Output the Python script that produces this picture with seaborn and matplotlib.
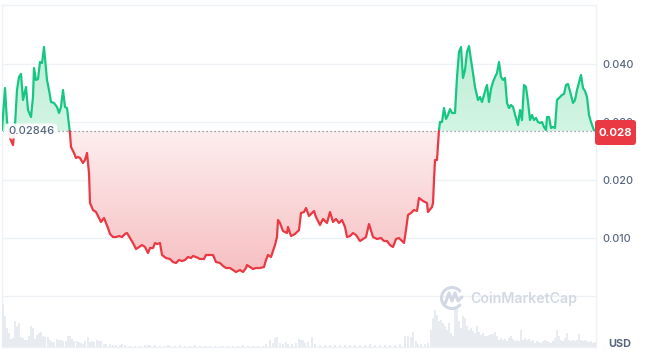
import numpy as np
import pandas as pd
import matplotlib
matplotlib.use('Agg')
import matplotlib.pyplot as plt
import seaborn as sns
from matplotlib.path import Path
from matplotlib.colors import LinearSegmentedColormap
from matplotlib.patches import FancyBboxPatch, Arc

# price samples (t = sample position along the day, price in 1/1000 USD)
t = [2, 5, 7, 10, 13, 15, 17, 19, 21, 23,
     26, 28, 31, 33, 34, 36, 38, 40, 42, 44,
     47, 49, 51, 54, 57, 59, 61, 63, 65, 67,
     70, 71, 74, 76, 78, 80, 83, 85, 87, 89,
     90, 93, 96, 99, 101, 104, 106, 108, 110, 113,
     116, 119, 122, 125, 127, 130, 133, 136, 139, 142,
     145, 148, 150, 153, 155, 157, 160, 162, 166, 170,
     173, 176, 179, 182, 185, 188, 191, 193, 196, 200,
     204, 206, 210, 213, 216, 220, 223, 226, 230, 233,
     236, 240, 243, 246, 247, 250, 253, 256, 260, 264,
     266, 268, 271, 275, 277, 278, 280, 283, 287, 288,
     291, 295, 298, 299, 301, 304, 306, 309, 314, 316,
     320, 323, 327, 330, 333, 336, 339, 342, 345, 347,
     350, 353, 356, 360, 363, 366, 369, 373, 377, 381,
     384, 387, 390, 393, 396, 399, 401, 404, 406, 408,
     411, 414, 417, 419, 423, 427, 428, 432, 433, 434,
     435, 437, 439, 440, 442, 444, 446, 448, 450, 452,
     455, 457, 459, 461, 463, 465, 467, 469, 471, 473,
     475, 478, 480, 482, 484, 486, 487, 489, 491, 493,
     495, 497, 499, 501, 503, 505, 507, 509, 511, 513,
     516, 518, 520, 522, 524, 526, 528, 530, 532, 534,
     536, 538, 540, 542, 544, 546, 547, 549, 551, 553,
     555, 557, 559, 562, 564, 566, 568, 571, 573, 575,
     577, 581, 583, 585, 587, 589, 591, 594]
price_milli = [28.62, 35.86, 30.00, 27.24, 26.03, 29.48, 35.52, 37.76, 38.28, 33.79,
               36.03, 32.07, 30.86, 34.31, 39.31, 37.24, 37.41, 40.34, 40.17, 42.93,
               37.24, 35.52, 33.45, 33.28, 32.59, 31.55, 32.59, 35.52, 32.59, 32.41,
               28.00, 25.69, 24.66, 23.79, 23.97, 23.79, 22.93, 23.45, 24.66, 21.21,
               16.03, 14.83, 14.48, 13.45, 12.76, 13.45, 12.59, 11.72, 10.69, 10.17,
               10.17, 10.34, 10.17, 10.69, 10.86, 10.00, 9.14, 8.10, 8.45, 8.79,
               8.45, 7.41, 8.28, 8.28, 9.14, 8.97, 9.14, 7.07, 6.55, 6.38,
               5.86, 5.69, 6.21, 6.03, 6.21, 6.72, 6.55, 6.90, 6.72, 6.38,
               6.38, 7.07, 7.07, 7.07, 5.86, 5.69, 5.17, 4.83, 4.83, 4.48,
               4.14, 4.48, 4.14, 4.83, 5.34, 5.00, 4.66, 4.83, 4.83, 5.00,
               6.21, 7.07, 6.72, 8.79, 10.17, 13.10, 12.59, 11.21, 10.86, 11.90,
               10.34, 10.69, 11.21, 11.38, 14.31, 14.48, 15.17, 13.79, 14.66, 13.62,
               12.24, 13.28, 12.59, 14.48, 12.76, 13.28, 12.59, 13.10, 11.90, 10.17,
               10.34, 10.86, 10.52, 9.48, 9.83, 10.17, 12.41, 10.17, 9.83, 10.00,
               9.48, 9.48, 8.79, 8.45, 9.83, 10.00, 9.66, 9.14, 11.38, 13.97,
               14.31, 14.83, 14.66, 16.90, 16.38, 16.03, 14.48, 15.34, 16.03, 20.00,
               23.45, 23.45, 28.62, 30.00, 30.00, 32.41, 30.52, 31.21, 32.24, 31.55,
               31.55, 37.76, 42.07, 42.93, 37.59, 38.97, 42.07, 43.10, 40.69, 38.45,
               36.03, 33.79, 34.31, 33.45, 34.66, 35.86, 36.38, 33.45, 35.69, 36.90,
               37.76, 38.45, 40.34, 37.76, 37.24, 37.59, 33.28, 32.41, 32.93, 32.59,
               30.69, 29.48, 32.07, 30.34, 36.38, 36.03, 33.45, 30.34, 31.21, 30.34,
               30.69, 30.00, 29.83, 30.00, 29.14, 28.62, 30.86, 30.86, 28.97, 29.14,
               28.97, 33.79, 34.14, 34.66, 34.83, 36.38, 36.55, 34.66, 33.28, 33.79,
               35.52, 38.10, 35.86, 35.34, 34.31, 31.21, 30.00, 28.55]

# volume samples (relative units)
vol_t = [3, 5, 7, 9, 11, 13, 15, 17, 19, 21, 23, 25, 27, 29, 31, 33, 35, 37, 39, 41,
         43, 45, 48, 50, 52, 54, 57, 59, 61, 63, 66, 68, 70, 72, 74, 77, 79, 81, 83, 85,
         88, 90, 92, 94, 97, 99, 101, 104, 106, 110, 113, 116, 120, 122, 125, 130, 135, 140, 145, 148,
         150, 155, 160, 165, 168, 170, 175, 180, 185, 190, 195, 200, 205, 210, 215, 220, 223, 228, 233, 238,
         243, 248, 253, 258, 263, 266, 270, 273, 275, 277, 280, 283, 286, 288, 292, 296, 299, 301, 303, 305,
         308, 312, 315, 320, 325, 330, 335, 340, 345, 350, 355, 360, 365, 370, 375, 380, 385, 390, 395, 400,
         405, 408, 411, 413, 416, 418, 421, 425, 428, 431, 433, 435, 437, 439, 441, 443, 445, 447, 449, 451,
         453, 455, 457, 459, 461, 463, 465, 467, 469, 471, 473, 475, 477, 479, 481, 483, 485, 487, 489, 491,
         493, 495, 497, 499, 501, 503, 505, 507, 509, 511, 513, 515, 517, 519, 521, 523, 525, 527, 529, 531,
         533, 535, 537, 539, 541, 543, 545, 547, 549, 551, 553, 555, 557, 559, 561, 563, 565, 567, 569, 571,
         573, 575, 577, 579, 581, 583, 585, 587, 589, 591, 593, 595]
vol = [43, 31, 19, 14, 8, 9, 26, 21, 24, 10, 9, 7, 7, 11, 21, 19, 8, 12, 14, 15,
       11, 10, 10, 7, 5, 5, 8, 7, 7, 6, 6, 11, 11, 8, 6, 6, 5, 4, 3, 6,
       10, 5, 6, 5, 7, 6, 6, 3, 3, 3, 2, 2, 2, 3, 2, 1, 1, 1, 2, 2,
       2, 2, 1, 1, 2, 1, 1, 2, 1, 1, 2, 1, 1, 1, 1, 1, 1, 1, 1, 1,
       2, 1, 1, 1, 1, 3, 7, 4, 9, 10, 4, 3, 5, 3, 3, 4, 8, 7, 7, 4,
       5, 10, 3, 2, 2, 2, 2, 2, 2, 2, 2, 2, 2, 3, 2, 2, 2, 2, 2, 3,
       11, 11, 10, 15, 6, 3, 3, 3, 4, 17, 29, 37, 32, 26, 27, 24, 21, 17, 24, 14,
       11, 39, 41, 26, 19, 31, 29, 21, 17, 19, 16, 14, 21, 15, 12, 14, 11, 11, 12, 13,
       13, 15, 11, 7, 9, 7, 8, 6, 9, 11, 8, 6, 7, 6, 17, 7, 9, 7, 8, 6,
       7, 4, 6, 5, 4, 6, 7, 6, 5, 4, 6, 9, 17, 11, 7, 6, 9, 14, 7, 6,
       7, 6, 7, 13, 7, 6, 7, 6, 5, 6, 4, 5]

open_price = 0.02846
last_label = '0.028'
y_ticks = [0.0, 0.01, 0.02, 0.03, 0.04]
y_labels = ['', '0.010', '0.020', '0.030', '0.040']

GREEN = '#16c784'
RED = '#ea3943'
GREY = '#58667e'
GRID = '#eff2f5'

sns.set_theme(style='white')
plt.rcParams['font.family'] = ['Inter', 'DejaVu Sans']

price = np.array(price_milli) / 1000
base = open_price

# insert the points where the line crosses the opening price
tt, pp = [], []
for i in range(len(t)):
    if i > 0 and (price[i - 1] - base) * (price[i] - base) < 0:
        f = (base - price[i - 1]) / (price[i] - price[i - 1])
        tt.append(t[i - 1] + f * (t[i] - t[i - 1]))
        pp.append(base)
    tt.append(t[i])
    pp.append(price[i])
tt = np.array(tt)
pp = np.array(pp)

rows = []
seg = 0
side = 'up' if pp[0] > base else 'down'
for x, y in zip(tt, pp):
    if y == base:
        rows.append((x, y, seg, side))
        seg += 1
        side = 'down' if side == 'up' else 'up'
    rows.append((x, y, seg, side))
df = pd.DataFrame(rows, columns=['t', 'p', 'seg', 'side'])

W, H = 649, 359
fig = plt.figure(figsize=(W / 100, H / 100), dpi=100)
ax = fig.add_axes([2 / W, 12 / H, 594 / W, 342 / H])
ax.set_facecolor('white')
xlim = (2, 596)
ylim = (-0.00879, 0.05017)

for yv in y_ticks:
    ax.axhline(yv, color=GRID, lw=1, zorder=0)

# gradient fills clipped to the area between line and opening price
green_cmap = LinearSegmentedColormap.from_list('g', ['#d3f5e4', '#bcedd4'])
red_cmap = LinearSegmentedColormap.from_list('r', ['#f7bfc2', '#fdeeee'])
grad = np.linspace(0, 1, 256).reshape(-1, 1)

poly_up = ax.fill_between(tt, pp, base, where=pp >= base, color='none', lw=0)
poly_dn = ax.fill_between(tt, pp, base, where=pp <= base, color='none', lw=0)

im_up = ax.imshow(grad, extent=[xlim[0], xlim[1], base, 0.0435], origin='lower',
                  aspect='auto', cmap=green_cmap, zorder=1)
im_up.set_clip_path(Path.make_compound_path(*poly_up.get_paths()), ax.transData)
im_dn = ax.imshow(grad, extent=[xlim[0], xlim[1], 0.004, base], origin='lower',
                  aspect='auto', cmap=red_cmap, zorder=1)
im_dn.set_clip_path(Path.make_compound_path(*poly_dn.get_paths()), ax.transData)

ax.plot(xlim, [base, base], ls=(0, (1, 2.2)), color='#7d8699', lw=0.9, zorder=2)

sns.lineplot(data=df, x='t', y='p', hue='side', units='seg', estimator=None, sort=False,
             palette={'up': GREEN, 'down': RED}, linewidth=1.6, legend=False, ax=ax, zorder=3)

ax.set_xlim(*xlim)
ax.set_ylim(*ylim)
ax.set_xlabel('')
ax.set_ylabel('')
ax.set_xticks([])
ax.set_yticks(y_ticks)
ax.set_yticklabels(y_labels, fontweight='medium')
ax.yaxis.tick_right()
ax.tick_params(axis='y', length=0, pad=4.5, labelsize=7.8, labelcolor=GREY)
for s in ax.spines.values():
    s.set_visible(True)
    s.set_color(GRID)
    s.set_linewidth(1)

# volume strip
axv = fig.add_axes([2 / W, 12 / H, 594 / W, 51 / H])
axv.patch.set_alpha(0)
axv.bar(vol_t, vol, width=1.3, color='#e8ecf1', linewidth=0)
axv.set_xlim(*xlim)
axv.set_ylim(0, 51)
axv.axis('off')

# overlay in pixel coordinates for labels
ov = fig.add_axes([0, 0, 1, 1])
ov.set_xlim(0, W)
ov.set_ylim(H, 0)
ov.axis('off')
ov.patch.set_alpha(0)

ov.add_patch(FancyBboxPatch((5, 123.5), 52, 15, boxstyle='round,pad=0,rounding_size=3',
                            fc='white', ec='none', alpha=0.92))
ov.text(8, 131.5, '0.02846', ha='left', va='center', fontsize=8, color=GREY,
        fontweight='medium')

ov.add_patch(FancyBboxPatch((595, 120), 41, 25, boxstyle='round,pad=0,rounding_size=3',
                            fc=RED, ec='none'))
ov.text(615.5, 132.5, last_label, ha='center', va='center', fontsize=8.2, color='white',
        fontweight='bold')

ov.text(620, 344, 'USD', ha='center', va='center', fontsize=7.8, color=GREY, fontweight='bold')

# watermark
ov.add_patch(Arc((452, 298), 21, 21, theta1=35, theta2=325, color='#d3d9e4', lw=2.2))
ov.plot([445, 449, 452, 455, 458, 462], [304, 293, 301, 293, 301, 297], color='#d3d9e4', lw=2.2,
        solid_joinstyle='round', solid_capstyle='round')
ov.text(470, 298.5, 'CoinMarketCap', ha='left', va='center', fontsize=10.2, color='#d3d9e4',
        fontweight='semibold')

fig.savefig('out.png', dpi=100)
